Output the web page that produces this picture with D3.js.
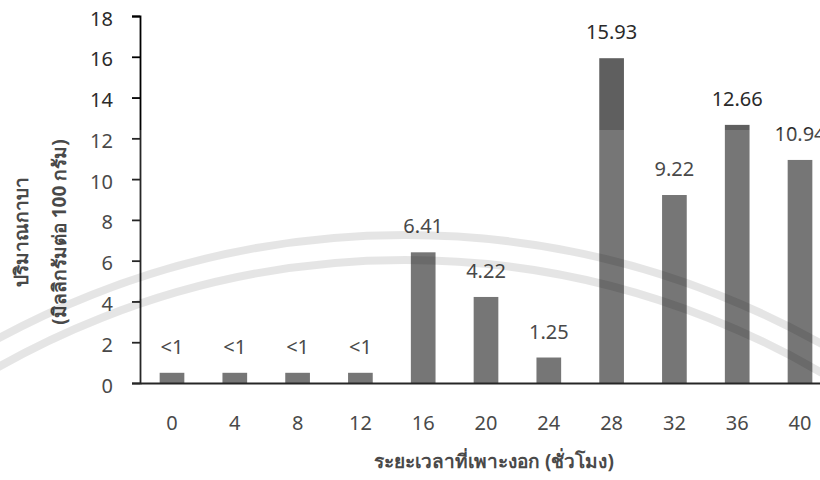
<!DOCTYPE html>
<html>
<head>
<meta charset="utf-8">
<script src="https://cdn.jsdelivr.net/npm/d3@7"></script>
<style>
  body { margin: 0; background: #fff; }
  text { font-family: "Noto Sans", "DejaVu Sans", sans-serif; }
</style>
</head>
<body>
<svg id="chart" width="820" height="480"></svg>
<script>
// hours of germination
const hours = ["0", "4", "8", "12", "16", "20", "24", "28", "32", "36", "40"];
// GABA content (mg / 100 g); "<1" bars drawn at about 0.5
const gaba = [0.5, 0.5, 0.5, 0.5, 6.41, 4.22, 1.25, 15.93, 9.22, 12.66, 10.94];
const valueLabels = ["<1", "<1", "<1", "<1", "6.41", "4.22", "1.25", "15.93", "9.22", "12.66", "10.94"];
const yTicks = [0, 2, 4, 6, 8, 10, 12, 14, 16, 18];

const svg = d3.select("#chart");
const plotLeft = 140, plotRight = 832, plotTop = 16, plotBottom = 383;
const textColor = "#2a2a2a";

const x = d3.scaleBand().domain(hours).range([plotLeft, plotRight]).paddingInner(0.607).paddingOuter(0.313);
const y = d3.scaleLinear().domain([0, 18]).range([plotBottom, plotTop]);

svg.append("g")
  .selectAll("rect")
  .data(gaba)
  .enter()
  .append("rect")
  .attr("x", (d, i) => x(hours[i]))
  .attr("y", (d) => y(d))
  .attr("width", x.bandwidth())
  .attr("height", (d) => y(0) - y(d))
  .attr("fill", "#5f5f5f");

// axes
const yAxis = svg.append("g")
  .attr("transform", `translate(${plotLeft},0)`)
  .call(d3.axisLeft(y).tickValues(yTicks).tickSize(8).tickFormat(d3.format("d")));
yAxis.select(".domain").attr("stroke", "#000").attr("stroke-width", 1.8);
yAxis.selectAll(".tick line").attr("stroke", "#000").attr("stroke-width", 1.8);
yAxis.selectAll(".tick text")
  .attr("x", -27)
  .attr("dy", "0.45em")
  .attr("font-size", 20)
  .attr("fill", textColor);

const xAxis = svg.append("g")
  .attr("transform", `translate(0,${plotBottom})`)
  .call(d3.axisBottom(x).tickSize(0).tickPadding(33));
xAxis.select(".domain").attr("stroke", "#000").attr("stroke-width", 1.8);
xAxis.selectAll(".tick text").attr("font-size", 20).attr("fill", textColor);

// value labels
svg.append("g")
  .selectAll("text")
  .data(gaba)
  .enter()
  .append("text")
  .attr("x", (d, i) => x(hours[i]) + x.bandwidth() / 2)
  .attr("y", (d) => y(d) - 19)
  .attr("text-anchor", "middle")
  .attr("font-size", 20)
  .attr("fill", textColor)
  .text((d, i) => valueLabels[i]);

// titles, sized so the x title spans about 242px like the original
const xTitle = svg.append("text")
  .attr("x", 494)
  .attr("y", 468)
  .attr("text-anchor", "middle")
  .attr("font-size", 18)
  .attr("font-weight", "bold")
  .attr("fill", textColor)
  .text("ระยะเวลาที่เพาะงอก (ชั่วโมง)");
const titleSize = 18 * 242 / xTitle.node().getComputedTextLength();
xTitle.attr("font-size", titleSize);

const yTitle = svg.append("text")
  .attr("transform", "translate(0,232) rotate(-90)")
  .attr("text-anchor", "middle")
  .attr("font-size", titleSize)
  .attr("font-weight", "bold")
  .attr("fill", textColor);
yTitle.append("tspan").attr("x", 0).attr("y", 28).text("ปริมาณกาบา");
yTitle.append("tspan").attr("x", 0).attr("y", 66).text("(มิลลิกรัมต่อ 100 กรัม)");

// faint watermark: light veil over the lower part and a double ring
svg.append("rect")
  .attr("x", 0).attr("y", 130).attr("width", 820).attr("height", 350)
  .attr("fill", "#fff").attr("opacity", 0.15);

const wm = svg.append("g").attr("fill", "none").attr("stroke", "#000").attr("stroke-opacity", 0.1);
[850, 825].forEach((r) => {
  wm.append("circle").attr("cx", 405).attr("cy", 1085).attr("r", r).attr("stroke-width", 8);
});
</script>
</body>
</html>
